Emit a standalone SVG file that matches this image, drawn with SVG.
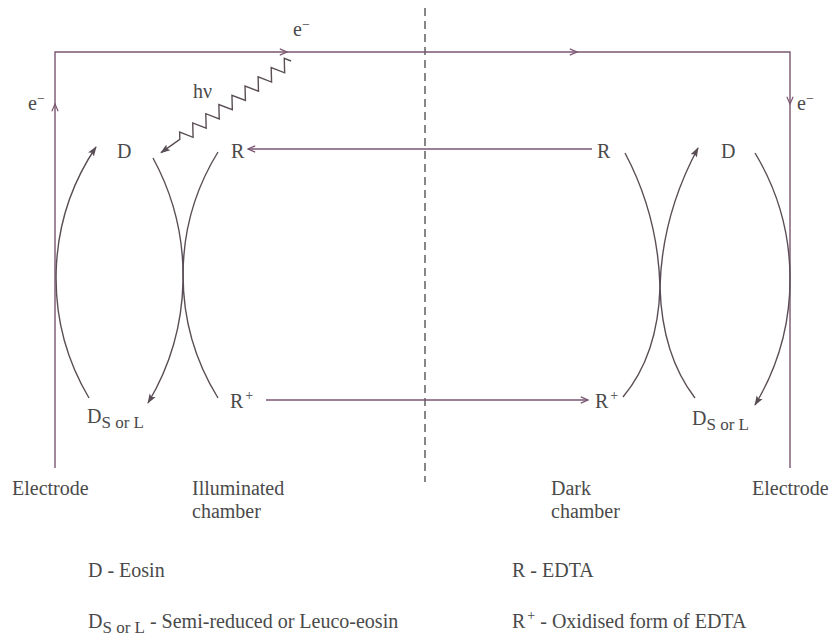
<svg xmlns="http://www.w3.org/2000/svg" width="835" height="637" viewBox="0 0 835 637">
<defs>
<style>
.t{font-family:"Liberation Serif","Times New Roman",serif;font-size:20px;fill:#4a4a4a}
.sub{font-size:17px}
.sup{font-size:14px}
.wire{fill:none;stroke:#7a5570;stroke-width:1.4}
.curve{fill:none;stroke:#5a4e56;stroke-width:1.4}
.dash{fill:none;stroke:#555;stroke-width:1.4;stroke-dasharray:8 5}
</style>
<marker id="open" viewBox="0 0 10 10" refX="9" refY="5" markerWidth="9" markerHeight="9" markerUnits="userSpaceOnUse" orient="auto">
<path d="M1,1.5 L9,5 L1,8.5" fill="none" stroke="#7a5570" stroke-width="1.3"/>
</marker>
<marker id="solid" viewBox="0 0 10 10" refX="9" refY="5" markerWidth="10" markerHeight="10" markerUnits="userSpaceOnUse" orient="auto">
<path d="M0,1.5 L10,5 L0,8.5 L2,5 z" fill="#5a4e56"/>
</marker>
</defs>
<rect width="835" height="637" fill="#ffffff"/>

<g id="connectors">
<path class="dash" d="M425,8 L425,482"/>
<path class="wire" d="M55,468 L55,104" marker-end="url(#open)"/>
<path class="wire" d="M55,104 L55,52 L287,52" marker-end="url(#open)"/>
<path class="wire" d="M287,52 L577,52" marker-end="url(#open)"/>
<path class="wire" d="M577,52 L790,52 L790,104" marker-end="url(#open)"/>
<path class="wire" d="M790,104 L790,468"/>
<path class="wire" d="M592,149 L248,149" marker-end="url(#open)"/>
<path class="wire" d="M266,400 L588,400" marker-end="url(#open)"/>
<g transform="translate(291,61) rotate(144.83)">
<path class="curve" d="M0,0 L4,6 L12,-6 L20,6 L28,-6 L36,6 L44,-6 L52,6 L60,-6 L68,6 L76,-6 L84,6 L92,-6 L100,6 L108,-6 L116,6 L124,-6 L132,6 L136,0 L159,0" marker-end="url(#solid)"/>
</g>
<path class="curve" d="M89,398 A235,235 0 0 1 96,147" marker-end="url(#solid)"/>
<path class="curve" d="M153,158 A247,247 0 0 1 148,403" marker-end="url(#solid)"/>
<path class="curve" d="M218,152 A234,234 0 0 0 218,398"/>
<path class="curve" d="M625,153 Q658,215 660,287 Q662,355 695,398"/>
<path class="curve" d="M623,397 Q658,355 660,287 Q662,215 698,148" marker-end="url(#solid)"/>
<path class="curve" d="M755,153 A244,244 0 0 1 755,405" marker-end="url(#solid)"/>
</g>

<g id="e-top"><text class="t" x="293" y="36">e<tspan class="sup" dy="-7">−</tspan></text></g>
<g id="e-left"><text class="t" x="28" y="110">e<tspan class="sup" dy="-7">−</tspan></text></g>
<g id="e-right"><text class="t" x="797" y="110">e<tspan class="sup" dy="-7">−</tspan></text></g>
<g id="hv"><text class="t" x="193" y="98">hν</text></g>

<g id="D-left"><text class="t" x="117" y="158">D</text></g>
<g id="R-left"><text class="t" x="231" y="158">R</text></g>
<g id="R-right"><text class="t" x="597" y="158">R</text></g>
<g id="D-right"><text class="t" x="721" y="158">D</text></g>

<g id="Rplus-left"><text class="t" x="230" y="408">R<tspan class="sup" dx="2" dy="-8">+</tspan></text></g>
<g id="Rplus-right"><text class="t" x="595" y="408">R<tspan class="sup" dx="2" dy="-8">+</tspan></text></g>
<g id="DS-left"><text class="t" x="87" y="423">D<tspan class="sub" dy="5">S or L</tspan></text></g>
<g id="DS-right"><text class="t" x="692" y="425">D<tspan class="sub" dy="5">S or L</tspan></text></g>

<g id="label-electrode-left"><text class="t" x="12" y="495">Electrode</text></g>
<g id="label-illuminated"><text class="t" x="192" y="495">Illuminated</text><text class="t" x="192" y="518">chamber</text></g>
<g id="label-dark"><text class="t" x="551" y="495">Dark</text><text class="t" x="551" y="518">chamber</text></g>
<g id="label-electrode-right"><text class="t" x="752" y="495">Electrode</text></g>

<g id="legend">
<text class="t" x="88" y="577">D - Eosin</text>
<text class="t" x="512" y="577">R - EDTA</text>
<text class="t" x="88" y="628">D<tspan class="sub" dy="5">S or L</tspan><tspan dy="-5"> - Semi-reduced or Leuco-eosin</tspan></text>
<text class="t" x="512" y="628">R<tspan class="sup" dx="2" dy="-8">+</tspan><tspan dy="8"> - Oxidised form of EDTA</tspan></text>
</g>
</svg>
